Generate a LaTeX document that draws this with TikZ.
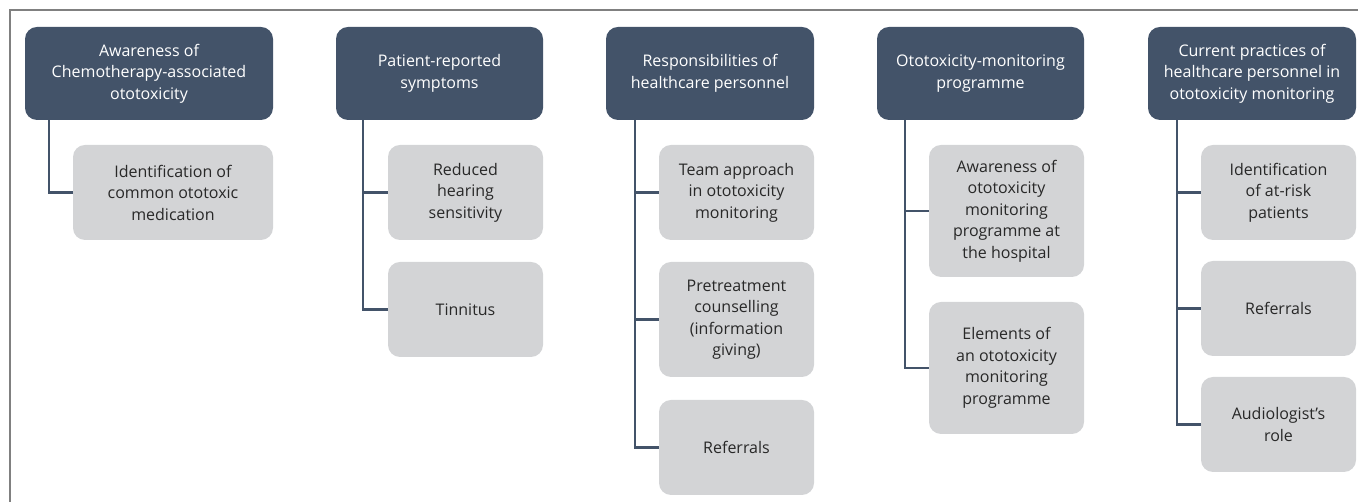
\documentclass[tikz,border=0pt]{standalone}
\usepackage{fontspec}
\setmainfont{Open Sans}
\usetikzlibrary{positioning}
\definecolor{slate}{RGB}{67,83,105}
\definecolor{pale}{RGB}{211,212,214}
\definecolor{ink}{RGB}{40,40,40}

\begin{document}
\begin{tikzpicture}[x = 1pt, y = 1pt, font = \fontsize{16}{21.5}\selectfont, line width = 2.5pt,
  head/.style = {fill = slate, text = white, rounded corners = 12pt, align = center, anchor = north west, minimum height = 93pt, inner sep = 2pt, outer sep = 0pt},
  item/.style = {fill = pale, text = ink, rounded corners = 12pt, align = center, minimum width = 155pt, minimum height = 95pt, inner sep = 2pt, outer sep = 0pt},
  link/.style = {draw = slate}]
  \useasboundingbox (0,0) rectangle (1358,502);
  \draw[line width = 1.8pt, gray] (10,0) -- (10,492) -- (1358,492);

  \node (chemo) [head, minimum width = 248pt] at (25,475) {Awareness of\\Chemotherapy-associated\\ototoxicity};
  \node (symptoms) [head, minimum width = 207pt] at (336,475) {Patient-reported\\symptoms};
  \node (duties) [head, minimum width = 208pt] at (606,475) {Responsibilities of\\healthcare personnel};
  \node (programme) [head, minimum width = 207pt] at (877,475) {Ototoxicity-monitoring\\programme};
  \node (practices) [head, minimum width = 208pt] at (1148,475) {Current practices of\\healthcare personnel in\\ototoxicity monitoring};

  \node (medication) [item, minimum width = 200pt, below left = 25pt and 0pt of chemo.south east] {Identification of\\common ototoxic\\medication};

  \node (hearing) [item, below left = 25pt and 0pt of symptoms.south east] {Reduced\\hearing\\sensitivity};
  \node (tinnitus) [item, below = 22pt of hearing] {Tinnitus};

  \node (team) [item, below left = 25pt and 0pt of duties.south east] {Team approach\\in ototoxicity\\monitoring};
  \node (counsel) [item, minimum height = 115pt, below = 22pt of team] {Pretreatment\\counselling\\(information\\giving)};
  \node (referral) [item, below = 23pt of counsel] {Referrals};

  \node (hospital) [item, minimum height = 132pt, below left = 25pt and 0pt of programme.south east] {Awareness of\\ototoxicity\\monitoring\\programme at\\the hospital};
  \node (elements) [item, minimum height = 132pt, below = 25pt of hospital] {Elements of\\an ototoxicity\\monitoring\\programme};

  \node (atrisk) [item, below left = 25pt and 0pt of practices.south east] {Identification\\of at-risk\\patients};
  \node (referrals) [item, below = 21pt of atrisk] {Referrals};
  \node (role) [item, below = 21pt of referrals] {Audiologist's\\role};

  \draw[link] ([xshift = 24pt]chemo.south west) |- (medication.west);
  \draw[link] ([xshift = 27pt]symptoms.south west) |- (hearing.west);
  \draw[link] ([xshift = 27pt]symptoms.south west) |- (tinnitus.west);
  \draw[link] ([xshift = 29pt]duties.south west) |- (team.west);
  \draw[link] ([xshift = 29pt]duties.south west) |- (counsel.west);
  \draw[link] ([xshift = 29pt]duties.south west) |- (referral.west);
  \draw[link] ([xshift = 28pt]programme.south west) |- (hospital.west);
  \draw[link] ([xshift = 28pt]programme.south west) |- (elements.west);
  \draw[link] ([xshift = 29pt]practices.south west) |- (atrisk.west);
  \draw[link] ([xshift = 29pt]practices.south west) |- (referrals.west);
  \draw[link] ([xshift = 29pt]practices.south west) |- (role.west);
\end{tikzpicture}
\end{document}
